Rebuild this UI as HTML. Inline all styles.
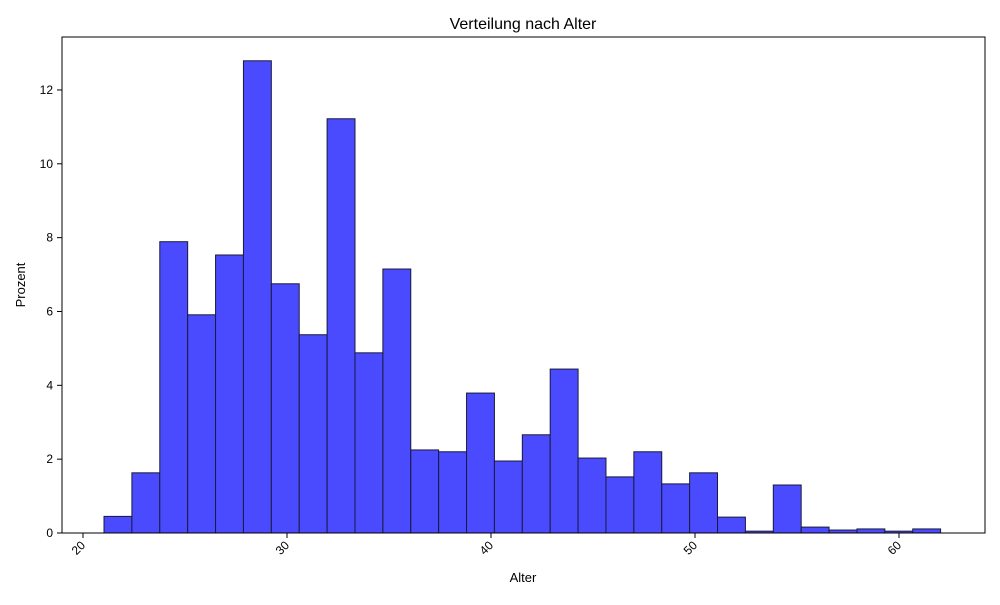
<!DOCTYPE html>
<html><head><meta charset="utf-8"><style>
body{margin:0;background:#fff;font-family:"Liberation Sans",sans-serif}
svg text{font-family:"Liberation Sans",sans-serif;fill:#000}
</style></head><body>
<svg id="c" width="1000" height="600" xmlns="http://www.w3.org/2000/svg">
<text x="523" y="29" font-size="16" text-anchor="middle">Verteilung nach Alter</text>
<g id="bars"></g>
<g id="xt"></g>
<g id="yt"></g>
<rect x="62" y="37" width="923" height="496" fill="none" stroke="#000" stroke-width="1"/>
<text x="523" y="582" font-size="13" text-anchor="middle">Alter</text>
<text x="25" y="285" font-size="13" text-anchor="middle" transform="rotate(-90 25 285)">Prozent</text>
</svg>
<script>
const binStart=21.03, binWidth=1.367;
const values=[0.45,1.63,7.89,5.91,7.53,12.79,6.75,5.37,11.22,4.88,7.15,2.25,2.2,3.79,1.95,2.66,4.44,2.03,1.52,2.2,1.33,1.63,0.43,0.05,1.3,0.16,0.08,0.11,0.05,0.11];
const xTicks=[20,30,40,50,60];
const yTicks=[0,2,4,6,8,10,12];
const X=v=>83+(v-20)*20.4, Y=v=>533-v*36.92;
const NS="http://www.w3.org/2000/svg";
const mk=(t,a,p)=>{const e=document.createElementNS(NS,t);for(const k in a)e.setAttribute(k,a[k]);p.appendChild(e);return e;};
const bars=document.getElementById('bars');
values.forEach((v,i)=>{
 const x0=X(binStart+i*binWidth),x1=X(binStart+(i+1)*binWidth);
 const r=mk('rect',{x:x0,y:Y(v),width:x1-x0,height:Y(0)-Y(v),fill:'rgb(74,74,255)',stroke:'#1a1a3a','stroke-width':1},bars);
 
 
});
const xt=document.getElementById('xt');
xTicks.forEach(t=>{
 const x=X(t);
 mk('line',{x1:x,x2:x,y1:533,y2:538,stroke:'#000'},xt);
 const tx=mk('text',{x:x+3,y:546,'font-size':12,'text-anchor':'end',transform:`rotate(-45 ${x+3} 546)`},xt);
 tx.textContent=t;
 
 
});
const yt=document.getElementById('yt');
yTicks.forEach(t=>{
 const y=Y(t);
 mk('line',{x1:57,x2:62,y1:y,y2:y,stroke:'#000'},yt);
 const tx=mk('text',{x:53,y:y+4,'font-size':12,'text-anchor':'end'},yt);
 tx.textContent=t;
 
 
});
</script>
</body></html>
